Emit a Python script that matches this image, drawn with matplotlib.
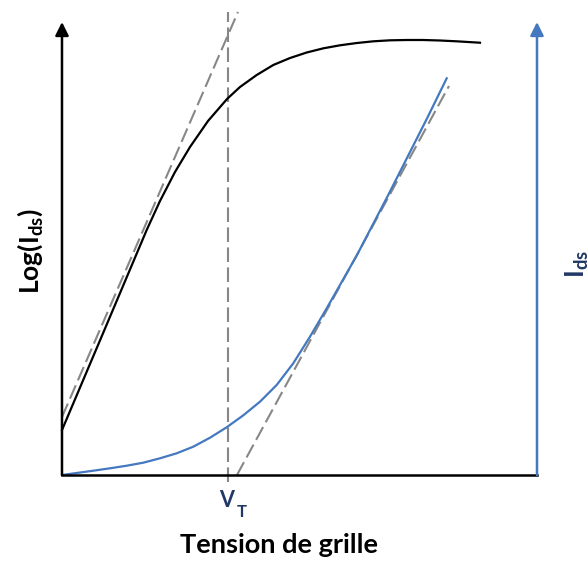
import matplotlib.pyplot as plt

plt.rcParams['font.family'] = ['Lato', 'DejaVu Sans']
plt.rcParams['mathtext.fontset'] = 'custom'
plt.rcParams['mathtext.rm'] = 'Lato'

# courbe log(Ids) en fonction de la tension de grille
vg_log = [0.000, 0.884, 1.783, 2.063, 2.379, 2.695, 3.074, 3.474, 3.747, 4.099,
          4.448, 4.800, 5.152, 5.501, 5.853, 6.204, 6.554, 6.905, 7.257, 7.606,
          7.958, 8.309, 8.800]
log_ids = [0.993, 3.179, 5.408, 6.049, 6.689, 7.241, 7.815, 8.300, 8.565, 8.830,
           9.051, 9.205, 9.327, 9.419, 9.486, 9.536, 9.574, 9.596, 9.603, 9.603,
           9.592, 9.574, 9.543]

# courbe Ids lineaire
vg_lin = [0.000, 0.659, 1.011, 1.362, 1.712, 2.063, 2.415, 2.764, 3.116, 3.467,
          3.817, 4.168, 4.520, 4.869, 5.221, 5.573, 5.888, 6.211, 6.484, 6.863,
          7.263, 7.684, 8.099]
ids = [0.000, 0.095, 0.148, 0.205, 0.272, 0.369, 0.479, 0.625, 0.823, 1.053,
       1.318, 1.618, 1.987, 2.466, 3.053, 3.680, 4.260, 4.857, 5.408, 6.170,
       6.998, 7.870, 8.757]

# tangentes et tension de seuil
tan_log_x = [0.000, 3.705]
tan_log_y = [1.280, 10.221]
tan_lin_x = [3.684, 8.147]
tan_lin_y = [0.000, 8.587]
vt = 3.495
vt_span = [-0.155, 10.221]

x_max = 10.0
y_max = 10.0

BLUE = '#4479c0'
NAVY = '#203864'
GREY = '#878787'

fig = plt.figure(figsize=(5.88, 5.62), dpi=100)
ax = fig.add_axes([0, 0, 1, 1])
ax.set_xlim(-1.305, 11.074)
ax.set_ylim(-1.9205, 10.486)
ax.axis('off')

dash = dict(color=GREY, lw=1.5, ls=(0, (7, 2.6)))
ax.plot(tan_log_x, tan_log_y, **dash)
ax.plot(tan_lin_x, tan_lin_y, **dash)
ax.plot([vt, vt], vt_span, **dash)

ax.plot(vg_log, log_ids, color='black', lw=1.6, solid_joinstyle='round')
ax.plot(vg_lin, ids, color=BLUE, lw=1.6, solid_joinstyle='round')

# axes avec fleches
ax.plot([0, x_max], [0, 0], color='black', lw=1.8)
ax.annotate('', xy=(0, y_max), xytext=(0, 0),
            arrowprops=dict(arrowstyle='-|>', color='black', lw=1.8,
                            mutation_scale=20, shrinkA=0, shrinkB=0))
ax.annotate('', xy=(x_max, y_max), xytext=(x_max, 0),
            arrowprops=dict(arrowstyle='-|>', color=BLUE, lw=1.8,
                            mutation_scale=20, shrinkA=0, shrinkB=0))

# V_T sous l'axe
ax.text(vt - 0.02, -0.700, 'V', color=NAVY, fontsize=15.5, fontweight='bold',
        ha='center', va='baseline')
ax.text(vt + 0.29, -0.921, 'T', color=NAVY, fontsize=12, fontweight='bold',
        ha='center', va='baseline')

ax.text(4.568, -1.729, 'Tension de grille', fontsize=19.5, ha='center',
        va='baseline', fontweight='bold')
ax.text(-0.674, 4.945, r'Log(I$_{\mathregular{ds}}$)', fontsize=19, rotation=90,
        ha='center', va='center', fontweight='bold')
ax.text(10.99, 4.35, r'I$_{\mathregular{ds}}$', fontsize=19, rotation=90,
        rotation_mode='anchor', ha='left', va='baseline', color=NAVY,
        fontweight='bold')

fig.savefig('out.png', dpi=100)
